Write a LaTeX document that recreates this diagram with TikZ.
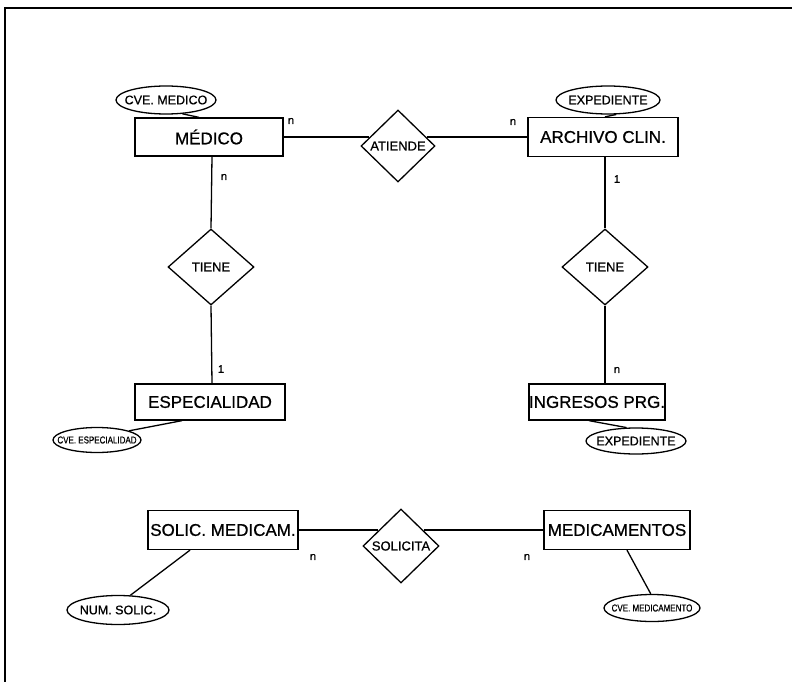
\documentclass[tikz,border=0pt]{standalone}
\usepackage{fontspec}
% slightly heavier strokes than the plain regular face
\setmainfont{Liberation Sans}[FakeBold=0.8]
\usetikzlibrary{shapes.geometric}
\begin{document}
\begin{tikzpicture}[x=1pt,y=-1pt,
  ent/.style={draw, line width=1.3pt, rectangle, inner sep=0pt,
    font=\fontsize{17}{19}\selectfont},
  rel/.style={draw, line width=1.3pt, diamond, inner sep=0pt,
    font=\fontsize{13}{15}\selectfont},
  attr/.style={draw, line width=1.3pt, ellipse, inner sep=0pt,
    font=\fontsize{12.5}{14}\selectfont},
  small/.style={font=\fontsize{10}{12}\selectfont},
  card/.style={inner sep=0pt, font=\fontsize{11}{12}\selectfont},
  link/.style={line width=1.3pt}]

\useasboundingbox (0,0) rectangle (792,682);
% page frame (top and left rules)
\draw[line width=1.4pt] (5,682) -- (5,8) -- (792,8);

% entities
\node[ent, minimum width=148, minimum height=38] (medico)   at (209,137) {MÉDICO};
\node[ent, minimum width=150, minimum height=39] (archivo)  at (603,137) {ARCHIVO CLIN.};
\node[ent, minimum width=150, minimum height=36] (espec)    at (210,402) {ESPECIALIDAD};
\node[ent, minimum width=134, minimum height=36] (ingres)   at (597,402) {INGRESOS PRG.};
\node[ent, minimum width=150, minimum height=39] (solic)    at (223,530) {SOLIC. MEDICAM.};
\node[ent, minimum width=146, minimum height=39] (medicam)  at (617,530) {MEDICAMENTOS};

% relationships
\node[rel, minimum width=74, minimum height=72] (atiende)  at (398,146) {ATIENDE};
\node[rel, minimum width=86, minimum height=76] (tieneA)   at (211,267) {TIENE};
\node[rel, minimum width=86, minimum height=76] (tieneB)   at (605,267) {TIENE};
\node[rel, minimum width=76, minimum height=74] (solicita) at (401,546) {SOLICITA};

% attributes (label width kept out of the outline size)
\node[attr, minimum width=100, minimum height=28] (cvemed)   at (166,100) {\makebox[0pt]{CVE. MEDICO}};
\node[attr, minimum width=104, minimum height=28] (expedt)   at (608,100) {\makebox[0pt]{EXPEDIENTE}};
\node[attr, minimum width=88,  minimum height=25, small] (cvees) at (97,440)
  {\makebox[0pt]{\scalebox{0.8}[1]{CVE. ESPECIALIDAD}}};
\node[attr, minimum width=100, minimum height=26] (exped2)   at (636,441) {\makebox[0pt]{EXPEDIENTE}};
\node[attr, minimum width=102, minimum height=29] (numsol)   at (118,610) {\makebox[0pt]{NUM. SOLIC.}};
\node[attr, minimum width=96,  minimum height=27, small] (cvemedic) at (652,608)
  {\makebox[0pt]{\scalebox{0.8}[1]{CVE. MEDICAMENTO}}};

% relationship links
\draw[link] (medico.east) -- ([xshift=9pt,yshift=9pt]atiende.west);
\draw[link] ([xshift=-9pt,yshift=9pt]atiende.east) -- (archivo.west);
\draw[link] ([xshift=3pt]medico.south) -- (tieneA.north);
\draw[link] (tieneA.south) -- ([xshift=2pt]espec.north);
\draw[link] ([xshift=2pt]archivo.south) -- (tieneB.north);
\draw[link] (tieneB.south) -- ([xshift=8pt]ingres.north);
\draw[link] (solic.east) -- ([xshift=16pt,yshift=16pt]solicita.west);
\draw[link] ([xshift=-16pt,yshift=16pt]solicita.east) -- (medicam.west);

% attribute links
\draw[link] (cvemed.-40) -- ([xshift=-10pt]medico.north);
\draw[link] (expedt.-60) -- ([xshift=2pt]archivo.north);
\draw[link] (cvees.16) -- ([xshift=-28pt]espec.south);
\draw[link] ([xshift=-8pt]ingres.south) -- (exped2.125);
\draw[link] ([xshift=-33pt]solic.south) -- (numsol.50);
\draw[link] ([xshift=10pt]medicam.south) -- (cvemedic.95);

% cardinalities
\node[card] (c1) at (291,121) {n};
\node[card] (c2) at (513,122) {n};
\node[card] (c3) at (224,177) {n};
\node[card] (c4) at (617,179) {1};
\node[card] (c5) at (221,369) {1};
\node[card] (c6) at (617,370) {n};
\node[card] (c7) at (313,557) {n};
\node[card] (c8) at (527,557) {n};
\end{tikzpicture}
\end{document}
